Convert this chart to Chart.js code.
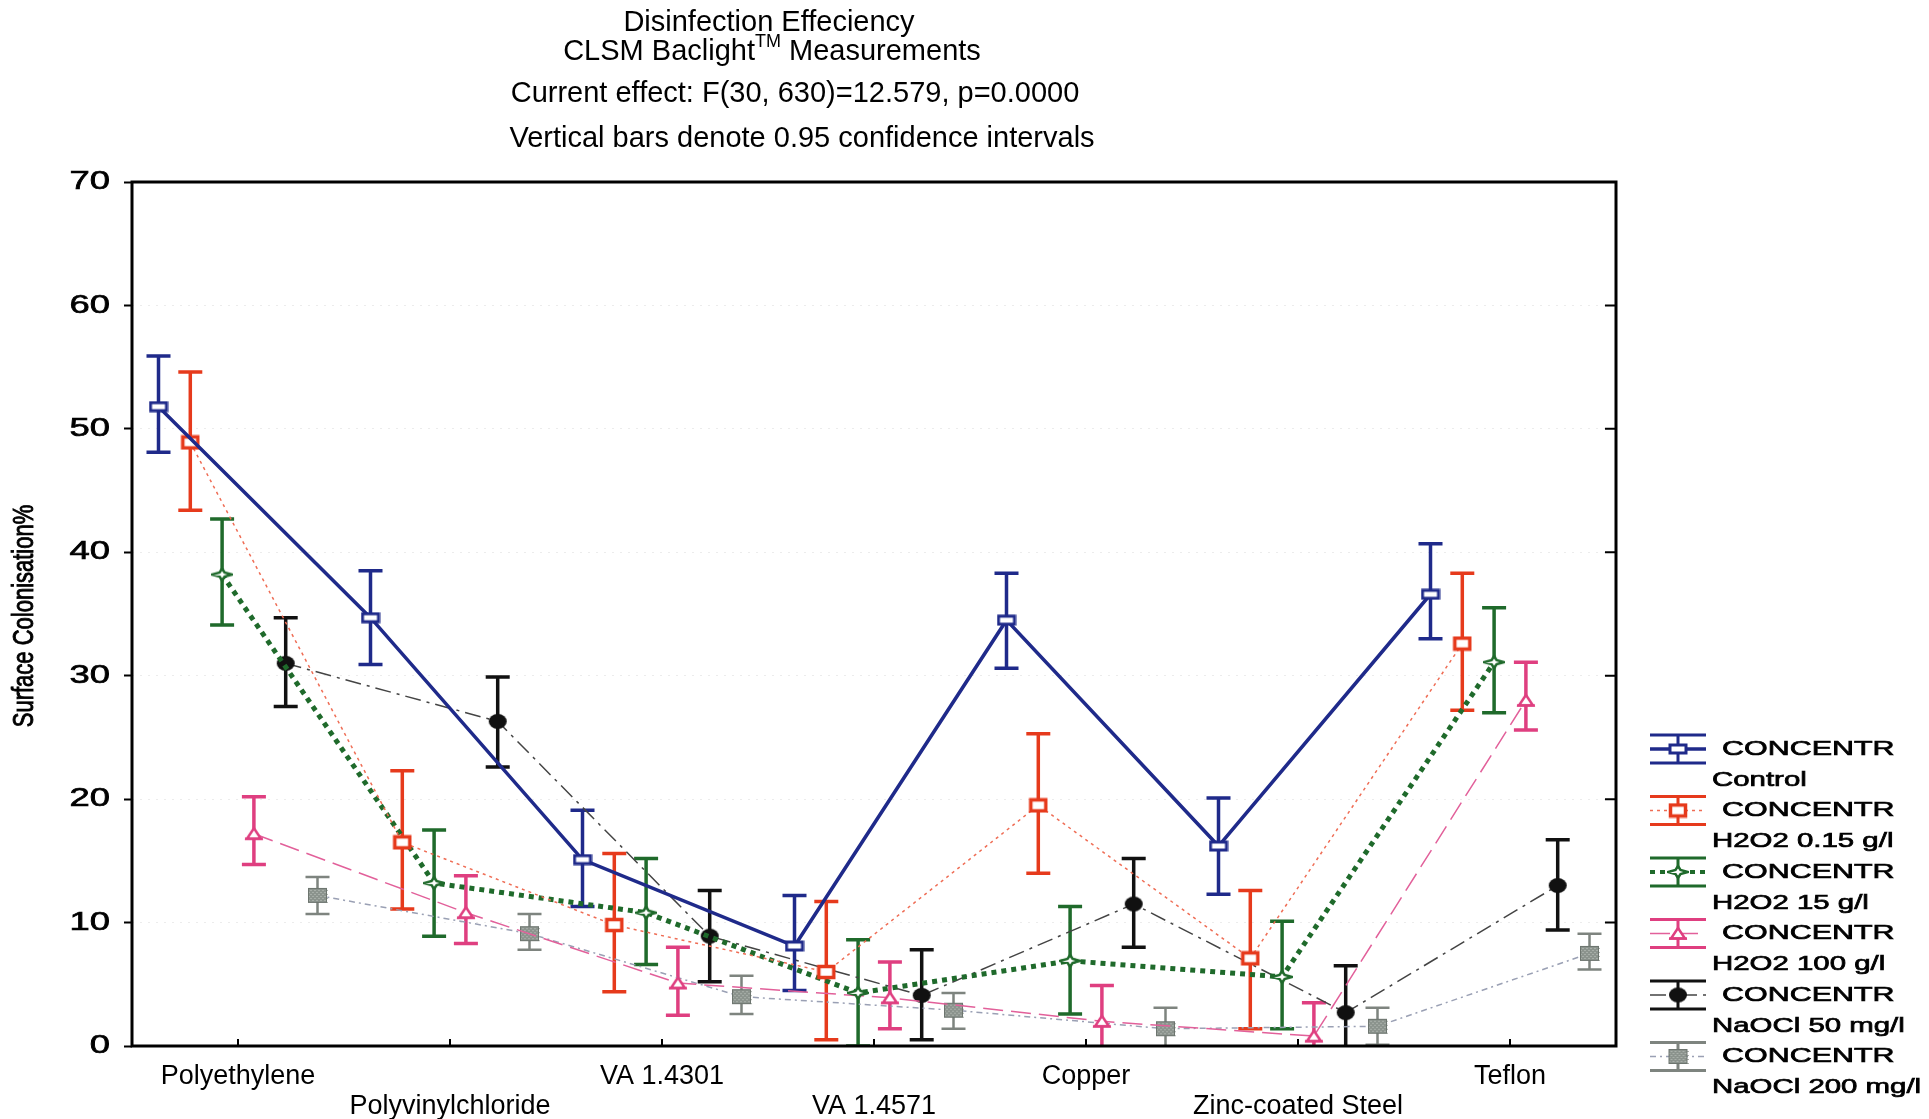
<!DOCTYPE html>
<html>
<head>
<meta charset="utf-8">
<title>Disinfection Effeciency</title>
<script src="https://cdn.jsdelivr.net/npm/chart.js@4.4.1/dist/chart.umd.min.js"></script>
<style>
  html, body { margin: 0; padding: 0; background: #fff; }
  #wrap { width: 1929px; height: 1119px; }
</style>
</head>
<body>
<div id="wrap"><canvas id="myChart" width="1929" height="1119"></canvas></div>
<script>
// materials on the x axis
const materials = ["Polyethylene", "Polyvinylchloride", "VA 1.4301", "VA 1.4571", "Copper", "Zinc-coated Steel", "Teflon"];

// mean surface colonisation (%) and 0.95 confidence limits per concentration
const controlMean = [51.8, 34.7, 15.1, 8.1, 34.5, 16.2, 36.6];
const controlLow = [48.1, 30.9, 11.3, 4.5, 30.6, 12.3, 33.0];
const controlHigh = [55.9, 38.5, 19.1, 12.2, 38.3, 20.1, 40.7];

const h2o2LowMean = [48.9, 16.5, 9.8, 6.0, 19.5, 7.1, 32.6];
const h2o2LowLow = [43.4, 11.1, 4.4, 0.5, 14.0, 1.4, 27.2];
const h2o2LowHigh = [54.6, 22.3, 15.6, 11.7, 25.3, 12.6, 38.3];

const h2o2MidMean = [38.2, 13.2, 10.8, 4.3, 6.9, 5.6, 31.1];
const h2o2MidLow = [34.1, 8.9, 6.6, 0.0, 2.6, 1.4, 27.0];
const h2o2MidHigh = [42.7, 17.5, 15.2, 8.6, 11.3, 10.1, 35.5];

const h2o2HighMean = [17.2, 10.8, 5.1, 3.9, 2.0, 0.8, 28.0];
const h2o2HighLow = [14.7, 8.3, 2.5, 1.4, -0.9, -1.9, 25.6];
const h2o2HighHigh = [20.2, 13.8, 8.0, 6.8, 4.9, 3.5, 31.1];

const naocl50Mean = [31.0, 26.3, 8.9, 4.1, 11.5, 2.7, 13.0];
const naocl50Low = [27.5, 22.6, 5.2, 0.5, 8.0, -1.1, 9.4];
const naocl50High = [34.7, 29.9, 12.6, 7.8, 15.2, 6.5, 16.7];

const naocl200Mean = [12.2, 9.1, 4.0, 2.9, 1.4, 1.6, 7.5];
const naocl200Low = [10.7, 7.8, 2.6, 1.4, -0.2, 0.1, 6.2];
const naocl200High = [13.7, 10.7, 5.7, 4.3, 3.1, 3.1, 9.1];

const series = [
  { name: "Control", mean: controlMean, low: controlLow, high: controlHigh,
    color: "#1f2a8a", lineColor: "#1f2a8a", lineWidth: 3.5, dash: [], marker: "square", barWidth: 3.5 },
  { name: "H2O2 0.15 g/l", mean: h2o2LowMean, low: h2o2LowLow, high: h2o2LowHigh,
    color: "#e63a1c", lineColor: "#ef6d55", lineWidth: 1.5, dash: [3, 4], marker: "bigsquare", barWidth: 3.5 },
  { name: "H2O2 15 g/l", mean: h2o2MidMean, low: h2o2MidLow, high: h2o2MidHigh,
    color: "#1f6a2b", lineColor: "#1f6a2b", lineWidth: 5, dash: [5, 5], marker: "star", barWidth: 3.5 },
  { name: "H2O2 100 g/l", mean: h2o2HighMean, low: h2o2HighLow, high: h2o2HighHigh,
    color: "#df3f80", lineColor: "#e2609a", lineWidth: 1.5, dash: [20, 8], marker: "triangle", barWidth: 3.5 },
  { name: "NaOCl 50 mg/l", mean: naocl50Mean, low: naocl50Low, high: naocl50High,
    color: "#111111", lineColor: "#444444", lineWidth: 1.5, dash: [16, 6, 3, 6], marker: "dot", barWidth: 3.5 },
  { name: "NaOCl 200 mg/l", mean: naocl200Mean, low: naocl200Low, high: naocl200High,
    color: "#7e847f", lineColor: "#9aa0b4", lineWidth: 1.5, dash: [6, 4, 2, 4], marker: "grey", barWidth: 2.5 },
];

// small canvases used as point styles
function makeMarker(kind, color) {
  const c = document.createElement("canvas");
  let g;
  if (kind === "square") {
    c.width = 20; c.height = 12; g = c.getContext("2d");
    g.fillStyle = "#fff"; g.fillRect(2, 2, 16, 8);
    g.lineWidth = 3; g.strokeStyle = color; g.strokeRect(2, 2, 16, 8);
  } else if (kind === "bigsquare") {
    c.width = 20; c.height = 16; g = c.getContext("2d");
    g.fillStyle = "#fff"; g.fillRect(2.5, 2.5, 15, 11);
    g.lineWidth = 3.5; g.strokeStyle = color; g.strokeRect(2.5, 2.5, 15, 11);
  } else if (kind === "star") {
    c.width = 22; c.height = 14; g = c.getContext("2d");
    g.beginPath();
    g.moveTo(11, 1); g.lineTo(13.5, 5); g.lineTo(21, 7); g.lineTo(13.5, 9);
    g.lineTo(11, 13); g.lineTo(8.5, 9); g.lineTo(1, 7); g.lineTo(8.5, 5); g.closePath();
    g.fillStyle = "#fff"; g.fill();
    g.lineWidth = 2.5; g.strokeStyle = color; g.stroke();
  } else if (kind === "triangle") {
    c.width = 20; c.height = 15; g = c.getContext("2d");
    g.beginPath(); g.moveTo(10, 2); g.lineTo(17, 12.5); g.lineTo(3, 12.5); g.closePath();
    g.fillStyle = "#fff"; g.fill();
    g.lineWidth = 2.5; g.strokeStyle = color; g.stroke();
    g.beginPath(); g.moveTo(1, 12.5); g.lineTo(19, 12.5); g.stroke();
  } else if (kind === "dot") {
    c.width = 20; c.height = 17; g = c.getContext("2d");
    g.beginPath(); g.ellipse(10, 8.5, 9, 7.5, 0, 0, Math.PI * 2);
    g.fillStyle = color; g.fill();
  } else {
    c.width = 21; c.height = 17; g = c.getContext("2d");
    g.fillStyle = "#8b938d"; g.fillRect(1, 1, 19, 15);
    g.fillStyle = "#a9b0aa";
    for (let yy = 1; yy < 16; yy += 2) {
      for (let xx = 1 + (yy % 4 === 1 ? 0 : 2); xx < 20; xx += 4) g.fillRect(xx, yy, 2, 1);
    }
    g.lineWidth = 1; g.strokeStyle = "#6d756f"; g.strokeRect(1.5, 1.5, 18, 14);
  }
  return c;
}

const markers = series.map(s => makeMarker(s.marker, s.color));

// spread of the six concentrations around each material
const groupStep = 0.15;

const datasets = series.map((s, j) => ({
  label: s.name,
  data: s.mean.map((v, i) => ({ x: i + (j - 2.5) * groupStep, y: v })),
  low: s.low,
  high: s.high,
  barColor: s.color,
  barWidth: s.barWidth,
  borderColor: s.lineColor,
  borderWidth: s.lineWidth,
  borderDash: s.dash,
  pointStyle: markers[j],
  pointRadius: 9,
  pointHoverRadius: 9,
  fill: false,
  tension: 0,
}));

// heavier text for the stretched labels
function boldText(ctx, text, x, y) {
  ctx.fillText(text, x, y);
  ctx.lineWidth = 0.7;
  ctx.strokeStyle = ctx.fillStyle;
  ctx.strokeText(text, x, y);
}

// vertical confidence bars, drawn under the lines
const errorBars = {
  id: "errorBars",
  beforeDatasetsDraw(chart) {
    const ctx = chart.ctx;
    const ys = chart.scales.y;
    const area = chart.chartArea;
    ctx.save();
    ctx.beginPath();
    ctx.rect(area.left, area.top - 10, area.right - area.left, area.bottom - area.top + 10);
    ctx.clip();
    chart.data.datasets.forEach((ds, j) => {
      const meta = chart.getDatasetMeta(j);
      ctx.strokeStyle = ds.barColor;
      ctx.lineWidth = ds.barWidth;
      ctx.setLineDash([]);
      meta.data.forEach((pt, i) => {
        const top = ys.getPixelForValue(ds.high[i]);
        const bot = ys.getPixelForValue(ds.low[i]);
        const half = 12;
        ctx.beginPath();
        ctx.moveTo(pt.x, top); ctx.lineTo(pt.x, bot);
        ctx.moveTo(pt.x - half, top); ctx.lineTo(pt.x + half, top);
        ctx.moveTo(pt.x - half, bot); ctx.lineTo(pt.x + half, bot);
        ctx.stroke();
      });
    });
    ctx.restore();
  },
};

// plot frame, inner ticks, stretched y labels and axis title
const frame = {
  id: "frame",
  afterDraw(chart) {
    const ctx = chart.ctx;
    const a = chart.chartArea;
    const ys = chart.scales.y;
    const xs = chart.scales.x;
    ctx.save();
    ctx.strokeStyle = "#000";
    ctx.lineWidth = 3;
    ctx.setLineDash([]);
    ctx.strokeRect(a.left, a.top, a.right - a.left, a.bottom - a.top);
    ctx.lineWidth = 2;
    ctx.beginPath();
    ys.ticks.forEach(t => {
      const py = ys.getPixelForValue(t.value);
      ctx.moveTo(a.right, py); ctx.lineTo(a.right - 11, py);
    });
    xs.ticks.forEach(t => {
      const px = xs.getPixelForValue(t.value);
      ctx.moveTo(px, a.bottom); ctx.lineTo(px, a.bottom - 7);
    });
    ctx.stroke();

    ctx.fillStyle = "#000";
    ctx.font = '26px "Liberation Sans", Arial, sans-serif';
    ctx.textAlign = "right";
    ctx.textBaseline = "middle";
    ys.ticks.forEach(t => {
      const py = ys.getPixelForValue(t.value);
      ctx.save();
      ctx.translate(110, py);
      ctx.scale(1.4, 1);
      boldText(ctx, String(t.value), 0, 0);
      ctx.restore();
    });

    ctx.save();
    ctx.translate(25, (a.top + a.bottom) / 2 + 2);
    ctx.rotate(-Math.PI / 2);
    ctx.scale(1, 1.3);
    ctx.textAlign = "center";
    ctx.font = '22px "Liberation Sans", Arial, sans-serif';
    boldText(ctx, "Surface Colonisation%", 0, 0);
    ctx.restore();
    ctx.restore();
  },
};

// four-line heading with superscript TM
const heading = {
  id: "heading",
  afterDraw(chart) {
    const ctx = chart.ctx;
    ctx.save();
    ctx.fillStyle = "#000";
    ctx.textBaseline = "middle";
    ctx.textAlign = "center";
    const big = '29px "Liberation Sans", Arial, sans-serif';
    const small = '18px "Liberation Sans", Arial, sans-serif';
    ctx.font = big;
    ctx.fillText("Disinfection Effeciency", 769, 23);

    const p1 = "CLSM Baclight", p2 = "TM", p3 = " Measurements";
    const w1 = ctx.measureText(p1).width, w3 = ctx.measureText(p3).width;
    ctx.font = small;
    const w2 = ctx.measureText(p2).width;
    let x = 772 - (w1 + w2 + w3) / 2;
    ctx.textAlign = "left";
    ctx.font = big; ctx.fillText(p1, x, 52); x += w1;
    ctx.font = small; ctx.fillText(p2, x, 42); x += w2;
    ctx.font = big; ctx.fillText(p3, x, 52);

    ctx.textAlign = "center";
    ctx.fillText("Current effect: F(30, 630)=12.579, p=0.0000", 795, 94);
    ctx.fillText("Vertical bars denote 0.95 confidence intervals", 802, 139);
    ctx.restore();
  },
};

// legend: error bar symbol with line style, two text lines per entry
const sideLegend = {
  id: "sideLegend",
  afterDraw(chart) {
    const ctx = chart.ctx;
    chart.data.datasets.forEach((ds, j) => {
      const y = 749 + j * 61.5;
      const x0 = 1650, x1 = 1706, xc = 1678;
      ctx.save();
      ctx.strokeStyle = ds.borderColor;
      ctx.lineWidth = Math.min(ds.borderWidth, 4);
      ctx.setLineDash(ds.borderDash);
      ctx.beginPath(); ctx.moveTo(x0, y); ctx.lineTo(x1, y); ctx.stroke();
      ctx.setLineDash([]);
      ctx.strokeStyle = ds.barColor;
      ctx.lineWidth = 3;
      ctx.beginPath();
      ctx.moveTo(x0, y - 14); ctx.lineTo(x1, y - 14);
      ctx.moveTo(x0, y + 14); ctx.lineTo(x1, y + 14);
      ctx.moveTo(xc, y - 14); ctx.lineTo(xc, y + 14);
      ctx.stroke();
      const m = ds.pointStyle;
      ctx.drawImage(m, xc - m.width / 2, y - m.height / 2);

      ctx.fillStyle = "#000";
      ctx.font = '21px "Liberation Sans", Arial, sans-serif';
      ctx.textBaseline = "middle";
      ctx.textAlign = "left";
      ctx.save();
      ctx.translate(1722, y);
      ctx.scale(1.45, 1);
      boldText(ctx, "CONCENTR", 0, 0);
      ctx.restore();
      ctx.translate(1712, y + 31);
      ctx.scale(1.4, 1);
      boldText(ctx, ds.label, 0, 0);
      ctx.restore();
    });
  },
};

Chart.defaults.font.family = '"Liberation Sans", Arial, sans-serif';
Chart.defaults.color = "#000";

const ctx = document.querySelector("#myChart").getContext("2d");

new Chart(ctx, {
  type: "line",
  data: { datasets },
  plugins: [errorBars, frame, heading, sideLegend],
  options: {
    responsive: false,
    animation: false,
    layout: { padding: { top: 182, right: 313, left: 0, bottom: 0 } },
    plugins: {
      legend: { display: false },
      tooltip: { enabled: false },
    },
    scales: {
      x: {
        type: "linear",
        min: -0.5,
        max: 6.5,
        afterBuildTicks: scale => {
          scale.ticks = materials.map((m, i) => ({ value: i }));
        },
        afterFit: scale => { scale.height = 73; },
        grid: { display: false },
        border: { display: false },
        ticks: {
          autoSkip: false,
          maxRotation: 0,
          padding: 8,
          color: "#000",
          font: { size: 27, lineHeight: 1.1 },
          callback: value => (value % 2 === 0 ? materials[value] : ["", materials[value]]),
        },
      },
      y: {
        min: 0,
        max: 70,
        afterFit: scale => { scale.width = 132; },
        ticks: { stepSize: 10, display: false },
        grid: {
          color: "#ececec",
          lineWidth: 1,
          tickColor: "#000",
          tickLength: 8,
          tickWidth: 2,
          tickBorderDash: [],
        },
        border: { display: false, dash: [2, 6] },
      },
    },
  },
});
</script>
</body>
</html>
